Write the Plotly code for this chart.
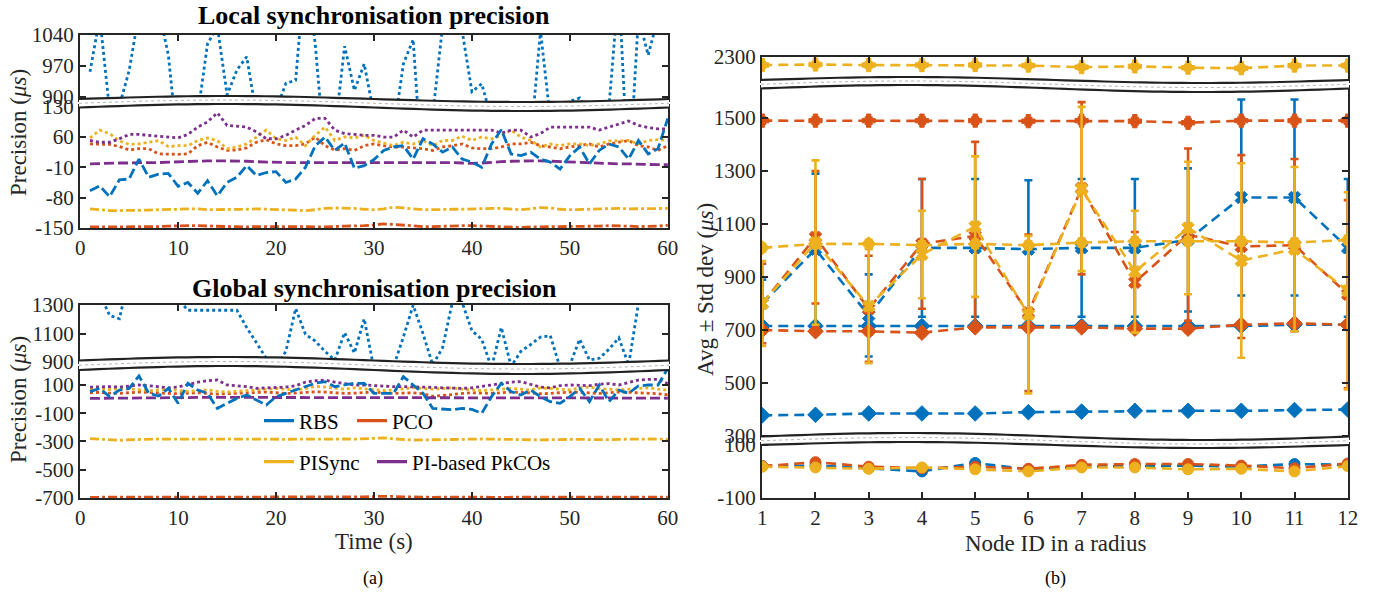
import math
import plotly.graph_objects as go

# ---------------- data: (a) time series ----------------
t = list(range(1, 61))

loc_rbs_dot = [957, 1080, 870, 880, 960, 1090, 1100, 1100, 995, 780, 820, 860, 1020, 1060, 905, 961, 991, 860, 820, 870,
               931, 938, 1200, 1020, 760, 820, 1015, 915, 975, 860, 850, 820, 975, 1030, 700, 860, 1060, 1100, 1050, 912,
               930, 850, 840, 860, 870, 800, 1050, 850, 860, 890, 898, 860, 840, 880, 1150, 700, 1080, 995, 1080, 1060]
loc_rbs_dash = [-64, -53, -78, -39, -37, 9, -33, -26, -24, -54, -45, -70, -41, -76, -45, -33, -6, -29, -22, -20,
                -45, -37, -10, 40, 60, 29, 46, -12, -6, 8, 29, 37, 40, 9, 56, 44, 25, 37, 9, 2,
                -10, 44, 77, 21, 17, 25, 9, 2, -14, 17, 37, -2, 29, 44, 37, 9, 52, 21, 33, 103]
loc_pk_dot = [52, 48, 48, 56, 66, 66, 64, 62, 60, 58, 66, 83, 95, 116, 87, 85, 83, 72, 56, 56,
              64, 76, 87, 103, 103, 76, 68, 66, 64, 64, 60, 60, 76, 60, 76, 76, 76, 76, 76, 76,
              76, 76, 69, 76, 76, 60, 68, 83, 83, 83, 83, 83, 76, 83, 91, 97, 87, 82, 79, 79]
loc_pis_dot = [58, 76, 68, 51, 43, 44, 48, 52, 38, 40, 40, 52, 58, 52, 33, 37, 44, 60, 76, 56,
               52, 60, 40, 64, 83, 52, 60, 58, 64, 52, 46, 40, 48, 44, 52, 40, 52, 52, 62, 52,
               60, 56, 64, 76, 60, 52, 37, 44, 40, 44, 44, 40, 44, 51, 51, 52, 44, 52, 54, 52]
loc_pco_dot = [44, 43, 43, 38, 30, 33, 33, 21, 20, 20, 21, 40, 48, 37, 29, 30, 35, 48, 54, 44,
               40, 40, 44, 60, 40, 30, 33, 29, 40, 44, 40, 37, 37, 35, 33, 29, 37, 40, 44, 35,
               33, 33, 37, 44, 44, 48, 40, 37, 33, 37, 40, 44, 37, 44, 48, 52, 40, 37, 29, 40]
loc_pk_dash = [-2, -1, -1, 0, 0, 1, 1, 1, 2, 2, 3, 4, 5, 5, 5, 5, 4, 3, 2, 2,
               1, 1, 1, 1, 2, 2, 2, 2, 2, 2, 2, 2, 2, 2, 2, 2, 2, 1, 0, -1,
               0, 2, 3, 4, 5, 5, 5, 4, 3, 3, 2, 1, 0, -1, -2, -2, -3, -3, -4, -4]
loc_pis_dd = [-106, -108, -110, -110, -110, -109, -109, -108, -108, -107, -106, -106, -108, -108, -107, -107, -107, -106, -107, -108,
              -109, -110, -110, -108, -105, -104, -104, -105, -107, -108, -106, -102, -104, -106, -108, -108, -107, -107, -107, -106,
              -106, -105, -105, -107, -108, -106, -103, -104, -107, -108, -108, -107, -106, -105, -105, -106, -106, -105, -105, -105]
loc_pco_dd = [-148, -148, -147, -147, -147, -147, -148, -147, -146, -145, -145, -145, -146, -147, -147, -147, -148, -147, -147, -146,
              -146, -147, -147, -148, -148, -147, -146, -146, -145, -143, -141, -142, -144, -146, -147, -147, -146, -145, -145, -145,
              -146, -147, -148, -149, -149, -148, -147, -147, -147, -147, -147, -146, -146, -145, -145, -146, -147, -147, -146, -144]

glo_rbs_dot = [1400, 1380, 1228, 1204, 1500, 1400, 1400, 1400, 1400, 1340, 1264, 1264, 1264, 1264, 1264, 1264, 1143, 1035, 926, 870,
               975, 1276, 1095, 1047, 975, 914, 1107, 963, 1204, 850, 830, 870, 1076, 1300, 1100, 880, 1000, 1320, 1320, 1120,
               1060, 860, 1143, 870, 975, 1023, 1075, 1085, 860, 880, 1060, 914, 926, 990, 1070, 880, 1310, 1400, 1400, 1400]
glo_rbs_dash = [53, 76, 17, 64, 76, 164, 41, 22, 76, -30, 112, 64, 41, -66, -30, 5, 29, -7, -42, 17,
                41, 64, 88, 112, 124, 88, 100, 112, 112, 41, 41, 41, 159, 100, 41, -66, -73, -76, -66, -73,
                -100, 17, 112, 53, 29, 64, 17, -18, -30, 17, 76, -18, 100, -18, 64, 41, 93, 100, 100, 218]
glo_pk_dot = [85, 88, 88, 85, 90, 100, 95, 88, 80, 85, 105, 120, 130, 135, 100, 95, 88, 76, 78, 80,
              85, 95, 120, 130, 135, 120, 110, 100, 100, 95, 90, 88, 88, 88, 85, 83, 80, 78, 76, 80,
              90, 100, 112, 120, 124, 105, 85, 80, 95, 100, 100, 95, 105, 110, 100, 120, 135, 140, 140, 110]
glo_pis_dot = [70, 72, 68, 75, 72, 65, 60, 65, 70, 60, 55, 60, 65, 55, 50, 55, 60, 65, 70, 75,
               70, 65, 75, 90, 85, 75, 70, 80, 75, 65, 60, 65, 70, 80, 75, 70, 75, 80, 70, 65,
               60, 65, 70, 75, 70, 65, 80, 75, 70, 65, 80, 85, 75, 70, 65, 70, 75, 80, 70, 65]
glo_pco_dot = [45, 48, 42, 40, 45, 50, 48, 42, 40, 38, 42, 45, 40, 35, 38, 42, 45, 48, 50, 45,
               40, 42, 48, 52, 50, 45, 40, 42, 48, 50, 45, 40, 42, 45, 38, 20, 25, 35, 40, 45,
               42, 40, 45, 50, 48, 42, 38, 40, 45, 50, 48, 42, 40, 45, 50, 48, 45, 40, 38, 30]
glo_pk_dash = [5, 6, 6, 7, 7, 8, 8, 9, 9, 10, 10, 11, 12, 12, 12, 12, 11, 11, 10, 10,
               10, 9, 9, 10, 10, 11, 11, 12, 12, 12, 11, 11, 10, 10, 10, 9, 9, 9, 10, 10,
               10, 11, 11, 12, 12, 12, 11, 11, 10, 10, 10, 9, 9, 9, 8, 8, 8, 7, 7, 6]
glo_pis_dd = [-280, -285, -290, -292, -288, -285, -284, -283, -284, -285, -286, -287, -286, -284, -283, -284, -285, -286, -287, -286,
              -285, -284, -283, -282, -281, -282, -283, -284, -282, -278, -275, -282, -288, -290, -289, -287, -286, -285, -284, -284,
              -283, -283, -284, -285, -286, -288, -289, -287, -285, -284, -285, -287, -289, -288, -285, -283, -282, -283, -284, -284]
glo_pco_dd = [-696, -696, -695, -695, -694, -694, -695, -696, -695, -693, -692, -693, -695, -696, -697, -697, -696, -694, -693, -693,
              -694, -695, -695, -694, -693, -693, -694, -695, -693, -690, -688, -690, -693, -695, -696, -696, -695, -694, -694, -695,
              -695, -696, -696, -695, -694, -694, -695, -695, -696, -696, -695, -694, -694, -693, -694, -695, -695, -694, -694, -695]

# ---------------- data: (b) per node ----------------
nodes = list(range(1, 13))
rbs_avg = [800, 1005, 755, 1010, 1010, 1005, 1010, 1010, 1040, 1200, 1200, 1010]
rbs_avg_sd = [90, 285, 155, 260, 260, 260, 260, 260, 270, 370, 370, 260]
rbs_d1 = [715, 715, 715, 715, 715, 715, 715, 715, 715, 715, 720, 720]
rbs_d1_sd = [10, 10, 10, 10, 10, 10, 10, 10, 10, 10, 10, 10]
rbs_d2 = [378, 380, 385, 385, 385, 390, 392, 395, 395, 395, 398, 400]
rbs_d2_sd = [8, 8, 8, 8, 8, 8, 8, 8, 8, 8, 8, 8]
rbs_o = [20, 22, 12, 0, 32, 8, 18, 20, 22, 18, 28, 25]
rbs_o_sd = [8, 8, 8, 8, 8, 8, 8, 8, 8, 8, 8, 8]

pco_plus = [1490, 1490, 1490, 1490, 1490, 1488, 1490, 1488, 1482, 1490, 1490, 1490]
pco_plus_sd = [12, 12, 12, 12, 12, 12, 12, 12, 12, 12, 12, 12]
pco_avg = [800, 1050, 780, 1025, 1055, 765, 1235, 880, 1060, 1015, 1020, 835]
pco_avg_sd = [150, 250, 200, 245, 355, 295, 325, 190, 325, 345, 325, 355]
pco_d = [700, 695, 695, 690, 710, 710, 710, 705, 705, 720, 725, 720]
pco_d_sd = [12, 12, 12, 12, 12, 12, 12, 12, 12, 12, 12, 12]
pco_o = [20, 35, 18, 12, 18, 10, 25, 28, 28, 22, 12, 30]
pco_o_sd = [8, 8, 8, 8, 8, 8, 8, 8, 8, 8, 8, 8]

pis_plus = [2270, 2272, 2270, 2270, 2270, 2268, 2262, 2265, 2260, 2258, 2268, 2268]
pis_plus_sd = [10, 10, 10, 10, 10, 10, 10, 10, 10, 10, 10, 10]
pis_avg = [800, 1030, 790, 985, 1090, 758, 1232, 920, 1085, 962, 1005, 848]
pis_avg_sd = [160, 310, 215, 165, 265, 297, 310, 230, 250, 367, 310, 372]
pis_d = [1010, 1025, 1025, 1020, 1025, 1020, 1030, 1035, 1035, 1035, 1030, 1040]
pis_d_sd = [15, 15, 15, 15, 15, 15, 15, 15, 15, 15, 15, 15]
pis_o = [18, 15, 10, 15, 8, 0, 15, 15, 8, 10, 0, 20]
pis_o_sd = [8, 8, 8, 8, 8, 8, 8, 8, 8, 8, 8, 8]

legend_names = ["RBS", "PCO", "PISync", "PI-based PkCOs"]

# ---------------- style ----------------
W, H = 1380, 595
BLUE, ORANGE, YELLOW, PURPLE = "#0072BD", "#D95319", "#EDB120", "#7E2F8E"
FONT = "Liberation Serif, Times New Roman, serif"
AXC = "#262626"
DOT, DASH, DASHDOT = "dot", "10px,4px", "9px,3px,3px,3px"
RDASH = "10px,6px"


def px(p):
    return p / W


def py(p):
    return 1 - p / H


fig = go.Figure()

LOCAL = [("x", "y"), ("x2", "y2")]
GLOBAL = [("x3", "y3"), ("x4", "y4")]
RIGHT = [("x5", "y5"), ("x6", "y6"), ("x7", "y7")]


def add_line(xs, ys, axes, color, dash, width=2.8):
    for xa, ya in axes:
        fig.add_trace(go.Scatter(x=xs, y=ys, xaxis=xa, yaxis=ya, mode="lines",
                                 line=dict(color=color, width=width, dash=dash),
                                 showlegend=False, hoverinfo="skip"))


def add_err(xs, ys, sd, color, symbol, size):
    for xa, ya in RIGHT:
        fig.add_trace(go.Scatter(x=xs, y=ys, xaxis=xa, yaxis=ya, mode="lines+markers",
                                 line=dict(color=color, width=2.6, dash=RDASH),
                                 marker=dict(color=color, symbol=symbol, size=size,
                                             line=dict(color=color, width=1)),
                                 error_y=dict(type="data", array=sd, visible=True,
                                              color=color, thickness=2.6, width=4),
                                 showlegend=False, hoverinfo="skip"))


# (a) local
add_line(t, loc_rbs_dot, LOCAL, BLUE, DOT)
add_line(t, loc_pco_dot, LOCAL, ORANGE, DOT)
add_line(t, loc_pis_dot, LOCAL, YELLOW, DOT)
add_line(t, loc_pk_dot, LOCAL, PURPLE, DOT)
add_line(t, loc_pk_dash, LOCAL, PURPLE, DASH)
add_line(t, loc_pis_dd, LOCAL, YELLOW, DASHDOT)
add_line(t, loc_pco_dd, LOCAL, ORANGE, DASHDOT)
add_line(t, loc_rbs_dash, LOCAL, BLUE, DASH)

# (a) global
add_line(t, glo_rbs_dot, GLOBAL, BLUE, DOT)
add_line(t, glo_pco_dot, GLOBAL, ORANGE, DOT)
add_line(t, glo_pis_dot, GLOBAL, YELLOW, DOT)
add_line(t, glo_pk_dot, GLOBAL, PURPLE, DOT)
add_line(t, glo_pk_dash, GLOBAL, PURPLE, DASH)
add_line(t, glo_pis_dd, GLOBAL, YELLOW, DASHDOT)
add_line(t, glo_pco_dd, GLOBAL, ORANGE, DASHDOT)
add_line(t, glo_rbs_dash, GLOBAL, BLUE, DASH)

# (b)
add_err(nodes, rbs_avg, rbs_avg_sd, BLUE, "x", 11)
add_err(nodes, rbs_d1, rbs_d1_sd, BLUE, "diamond", 12)
add_err(nodes, rbs_d2, rbs_d2_sd, BLUE, "diamond", 12)
add_err(nodes, rbs_o, rbs_o_sd, BLUE, "circle", 11)
add_err(nodes, pco_plus, pco_plus_sd, ORANGE, "cross", 11)
add_err(nodes, pco_avg, pco_avg_sd, ORANGE, "x", 11)
add_err(nodes, pco_d, pco_d_sd, ORANGE, "diamond", 12)
add_err(nodes, pco_o, pco_o_sd, ORANGE, "circle", 11)
add_err(nodes, pis_plus, pis_plus_sd, YELLOW, "cross", 11)
add_err(nodes, pis_avg, pis_avg_sd, YELLOW, "x", 11)
add_err(nodes, pis_d, pis_d_sd, YELLOW, "diamond", 11)
add_err(nodes, pis_o, pis_o_sd, YELLOW, "circle", 11)

# legend entries (one legend per entry, placed like the original)
for name, color, lg in zip(legend_names, [BLUE, ORANGE, YELLOW, PURPLE],
                           ["legend", "legend2", "legend3", "legend4"]):
    fig.add_trace(go.Scatter(x=[None], y=[None], xaxis="x3", yaxis="y3", mode="lines",
                             line=dict(color=color, width=3.4), name=name, legend=lg,
                             hoverinfo="skip"))

# ---------------- axes ----------------
tickfont = dict(family=FONT, size=21, color=AXC)
base = dict(showline=True, linecolor=AXC, linewidth=2, ticks="inside", ticklen=6,
            tickwidth=1.5, tickcolor=AXC, showgrid=False, zeroline=False,
            tickfont=tickfont, tickmode="array", automargin=False)


def yax(domain, rng, tv, anchor):
    d = dict(base)
    d.update(domain=[py(domain[0]), py(domain[1])], range=rng, tickvals=tv,
             ticktext=[str(v) for v in tv], anchor=anchor, mirror="ticks")
    return d


def xbottom(domain, rng, tv, anchor):
    d = dict(base)
    d.update(domain=[px(domain[0]), px(domain[1])], range=rng, tickvals=tv,
             ticktext=[str(v) for v in tv], anchor=anchor, mirror=False)
    return d


def xtop(domain, rng, tv, anchor, match):
    d = dict(base)
    d.update(domain=[px(domain[0]), px(domain[1])], range=rng, tickvals=tv,
             showticklabels=False, anchor=anchor, side="top", matches=match, mirror=False)
    return d


LX = (80, 668)
RX = (762, 1348)
tx = [0, 10, 20, 30, 40, 50, 60]
nx = list(range(1, 13))
xr_l = [-0.02, 60.02]
xr_r = [0.995, 12.005]

layout_axes = dict(
    xaxis=xbottom(LX, xr_l, tx, "y"),
    xaxis2=xtop(LX, xr_l, tx, "y2", "x"),
    yaxis=yax((228, 104), [-150.3, 136.4], [-150, -80, -10, 60, 130], "x"),
    yaxis2=yax((102, 35), [888.8, 1040.3], [900, 970, 1040], "x2"),
    xaxis3=xbottom(LX, xr_l, tx, "y3"),
    xaxis4=xtop(LX, xr_l, tx, "y4", "x3"),
    yaxis3=yax((498, 366), [-701, 234.5], [-700, -500, -300, -100, 100], "x3"),
    yaxis4=yax((364, 305), [886, 1301], [900, 1100, 1300], "x4"),
    xaxis5=xbottom(RX, xr_r, nx, "y5"),
    xaxis6=dict(domain=[px(RX[0]), px(RX[1])], range=xr_r, anchor="y6", matches="x5",
                visible=False, showgrid=False, zeroline=False, automargin=False),
    xaxis7=xtop(RX, xr_r, nx, "y7", "x5"),
    yaxis5=yax((498, 442), [-100.5, 111.3], [-100, 100], "x5"),
    yaxis6=yax((440, 85), [284.9, 1624.5], [300, 500, 700, 900, 1100, 1300, 1500], "x6"),
    yaxis7=yax((83, 57), [2201.9, 2300.5], [2300], "x7"),
)

# ---------------- axis breaks ----------------
shapes = []
breaks = [
    (LX, 99, 3, 107.5, 3.5),
    (LX, 360.5, 3.5, 370, 4),
    (RX, 80, 3, 88.5, 3.5),
    (RX, 436.5, 3.5, 445, 3),
]


def wave(xr, yc, a, n=60):
    pts = []
    for i in range(n + 1):
        u = i / n
        pts.append((xr[0] - 1 + (xr[1] - xr[0] + 2) * u, yc - a * math.sin(2 * math.pi * u)))
    return pts


def to_path(pts, close=False):
    s = "M " + " L ".join(f"{px(x):.5f},{py(y):.5f}" for x, y in pts)
    return s + (" Z" if close else "")


for xr, yt, at, yb, ab in breaks:
    top = wave(xr, yt, at)
    bot = wave(xr, yb, ab)
    shapes.append(dict(type="path", xref="paper", yref="paper", path=to_path(top + bot[::-1], True),
                       fillcolor="white", line=dict(width=0), layer="above"))
    mid = wave(xr, (yt + yb) / 2, (at + ab) / 2)
    shapes.append(dict(type="path", xref="paper", yref="paper", path=to_path(mid),
                       line=dict(color="#b5b5b5", width=1, dash="dot"), layer="above"))
    for w in (top, bot):
        shapes.append(dict(type="path", xref="paper", yref="paper", path=to_path(w),
                           line=dict(color="#222222", width=2.2), layer="above"))

# ---------------- text ----------------
def ann(text, x, y, size, angle=0, color="black"):
    return dict(text=text, x=px(x), y=py(y), xref="paper", yref="paper", showarrow=False,
                xanchor="center", yanchor="middle", textangle=angle,
                font=dict(family=FONT, size=size, color=color))


annotations = [
    ann("<b>Local synchronisation precision</b>", 374, 15, 26),
    ann("<b>Global synchronisation precision</b>", 374, 288, 26),
    ann("Precision (<i>μs</i>)", 18, 133, 23, -90, AXC),
    ann("Precision (<i>μs</i>)", 18, 400, 23, -90, AXC),
    ann("Time (s)", 374, 541, 23, 0, AXC),
    ann("Avg ± Std dev (<i>μs</i>)", 705, 290, 23, -90, AXC),
    ann("Node ID in a radius", 1055, 543, 23, 0, AXC),
    ann("(a)", 373, 578, 18),
    ann("(b)", 1055, 578, 18),
]

leg_common = dict(orientation="h", xanchor="left", yanchor="middle", bgcolor="rgba(0,0,0,0)",
                  borderwidth=0, font=dict(family=FONT, size=21, color="black"))

fig.update_layout(
    width=W, height=H, margin=dict(l=0, r=0, t=0, b=0, pad=0), autosize=False,
    paper_bgcolor="white", plot_bgcolor="white",
    font=dict(family=FONT, color=AXC),
    shapes=shapes, annotations=annotations,
    legend=dict(leg_common, x=px(259), y=py(421)),
    legend2=dict(leg_common, x=px(352), y=py(421)),
    legend3=dict(leg_common, x=px(259), y=py(462)),
    legend4=dict(leg_common, x=px(372), y=py(462)),
    **layout_axes,
)

fig.write_html("out.html", config={"displayModeBar": False},
               post_script="document.body.style.margin='0px';document.body.style.padding='0px';")
